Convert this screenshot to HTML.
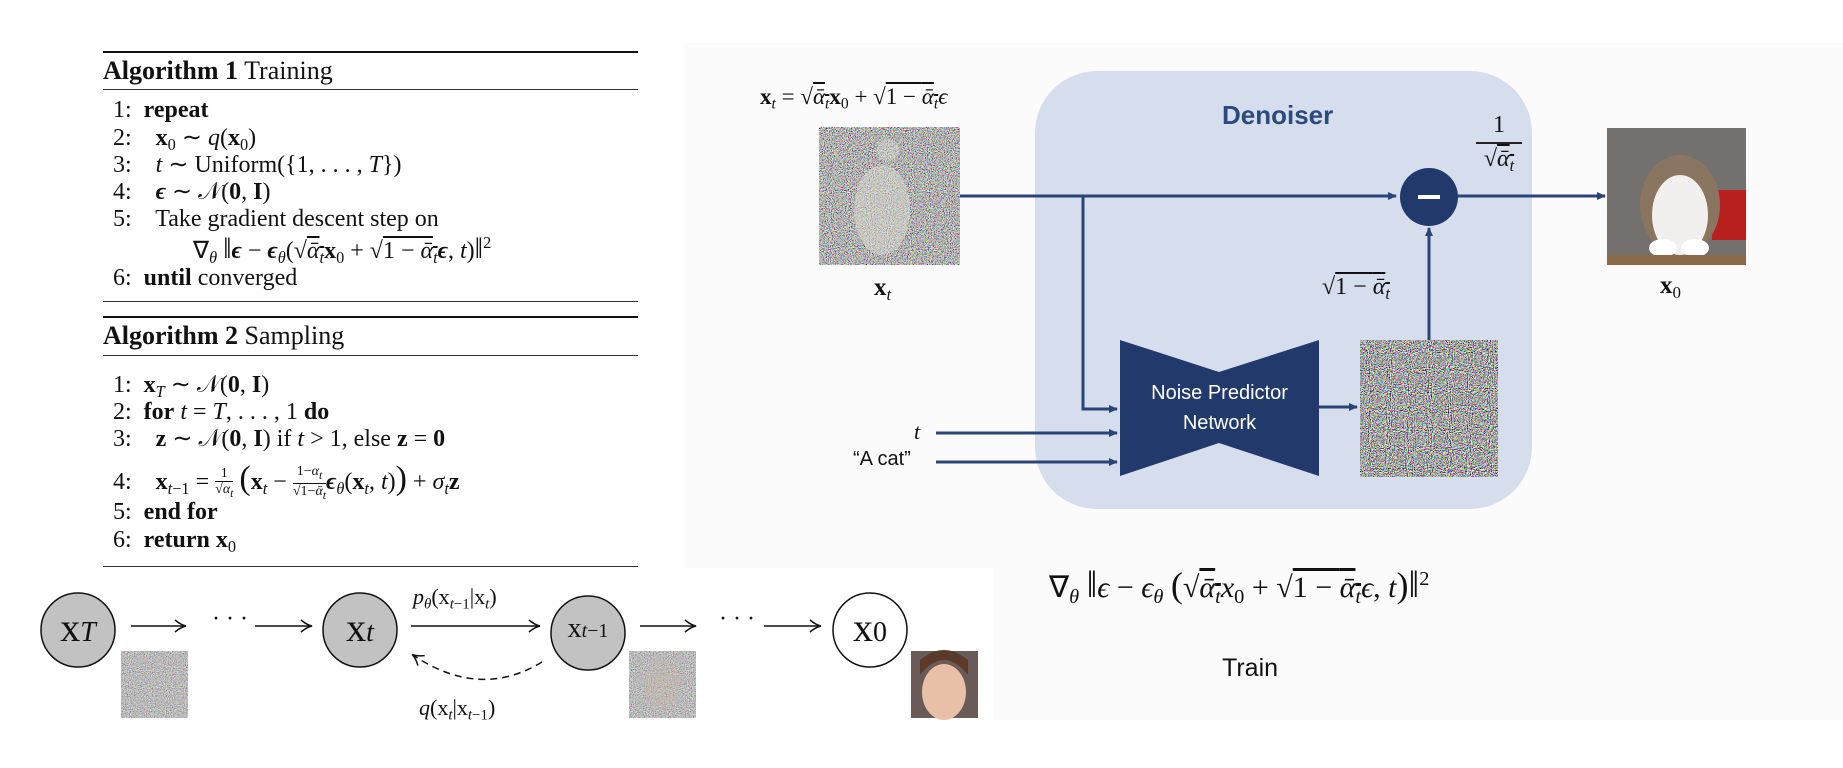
<!DOCTYPE html>
<html><head><meta charset="utf-8">
<style>
html,body{margin:0;padding:0;background:#fff;}
#c{position:relative;width:1843px;height:768px;overflow:hidden;background:#fff;font-family:"Liberation Serif",serif;color:#111;}
.a{position:absolute;white-space:nowrap;}
.s{font-size:24px;line-height:1;}
i{font-style:italic;}
b{font-weight:bold;}
.sub{font-size:0.68em;vertical-align:-0.3em;}
.sup{font-size:0.68em;vertical-align:0.6em;}
.ov{text-decoration:overline;}
.sans{font-family:"Liberation Sans",sans-serif;}
</style></head><body><div id="c">
<div class="a" style="left:684px;top:43px;width:1159px;height:525px;background:#fbfbfb;"></div>
<div class="a" style="left:993px;top:560px;width:850px;height:160px;background:#fbfbfb;"></div>

<div class="a" style="left:103px;top:51px;width:535px;height:2px;background:#111"></div>
<div class="a" style="left:103px;top:89px;width:535px;height:1px;background:#333"></div>
<div class="a" style="left:103px;top:301px;width:535px;height:1px;background:#333"></div>
<div class="a" style="left:103px;top:316px;width:535px;height:2px;background:#111"></div>
<div class="a" style="left:103px;top:355px;width:535px;height:1px;background:#333"></div>
<div class="a" style="left:103px;top:566px;width:535px;height:1px;background:#333"></div>

<div class="a" style="left:103px;top:56px;font-size:26px;"><b>Algorithm 1</b> Training</div>
<div class="a s" style="left:113px;top:98px;">1:&nbsp; <b>repeat</b></div>
<div class="a s" style="left:113px;top:126px;">2:&nbsp;&nbsp;&nbsp; <b>x</b><span class="sub">0</span> ∼ <i>q</i>(<b>x</b><span class="sub">0</span>)</div>
<div class="a s" style="left:113px;top:153px;">3:&nbsp;&nbsp;&nbsp; <i>t</i> ∼ Uniform({1, . . . , <i>T</i>})</div>
<div class="a s" style="left:113px;top:180px;">4:&nbsp;&nbsp;&nbsp; <b><i>ϵ</i></b> ∼ 𝒩(<b>0</b>, <b>I</b>)</div>
<div class="a s" style="left:113px;top:207px;">5:&nbsp;&nbsp;&nbsp; Take gradient descent step on</div>
<div class="a s" style="left:193px;top:234px;">∇<span class="sub"><i>θ</i></span> <span style="font-size:30px">‖</span><b><i>ϵ</i></b> − <b><i>ϵ</i></b><span class="sub"><i>θ</i></span>(√<span class="ov"><i>ᾱ</i><span class="sub"><i>t</i></span></span><b>x</b><span class="sub">0</span> + √<span class="ov">1 − <i>ᾱ</i><span class="sub"><i>t</i></span></span><b><i>ϵ</i></b>, <i>t</i>)<span style="font-size:30px">‖</span><span class="sup">2</span></div>
<div class="a s" style="left:113px;top:266px;">6:&nbsp; <b>until</b> converged</div>

<div class="a" style="left:103px;top:321px;font-size:26px;"><b>Algorithm 2</b> Sampling</div>
<div class="a s" style="left:113px;top:373px;">1:&nbsp; <b>x</b><span class="sub"><i>T</i></span> ∼ 𝒩(<b>0</b>, <b>I</b>)</div>
<div class="a s" style="left:113px;top:400px;">2:&nbsp; <b>for</b> <i>t</i> = <i>T</i>, . . . , 1 <b>do</b></div>
<div class="a s" style="left:113px;top:427px;">3:&nbsp;&nbsp;&nbsp; <b>z</b> ∼ 𝒩(<b>0</b>, <b>I</b>) if <i>t</i> &gt; 1, else <b>z</b> = <b>0</b></div>
<div class="a s" style="left:113px;top:462px;">4:&nbsp;&nbsp;&nbsp; <b>x</b><span class="sub"><i>t</i>−1</span> = <span style="display:inline-block;vertical-align:middle;text-align:center;font-size:14px;line-height:1.1"><span style="display:block;border-bottom:1px solid #111">1</span>√<i>α<sub>t</sub></i></span> <span style="font-size:34px">(</span><b>x</b><span class="sub"><i>t</i></span> − <span style="display:inline-block;vertical-align:middle;text-align:center;font-size:14px;line-height:1.1"><span style="display:block;border-bottom:1px solid #111">1−<i>α<sub>t</sub></i></span>√1−<i>ᾱ<sub>t</sub></i></span><b><i>ϵ</i></b><span class="sub"><i>θ</i></span>(<b>x</b><span class="sub"><i>t</i></span>, <i>t</i>)<span style="font-size:34px">)</span> + <i>σ</i><span class="sub"><i>t</i></span><b>z</b></div>
<div class="a s" style="left:113px;top:500px;">5:&nbsp; <b>end for</b></div>
<div class="a s" style="left:113px;top:528px;">6:&nbsp; <b>return</b> <b>x</b><span class="sub">0</span></div>

<svg class="a" style="left:0;top:0" width="1843" height="768">
<defs>
<filter id="nz" x="0" y="0" width="100%" height="100%"><feTurbulence type="fractalNoise" baseFrequency="0.95" numOctaves="1" seed="3"/><feColorMatrix type="matrix" values="5 0 0 0 -2  0 5 0 0 -2  0 0 5 0 -2  0 0 0 0 1"/></filter>
<filter id="nz2" x="0" y="0" width="100%" height="100%"><feTurbulence type="fractalNoise" baseFrequency="0.95" numOctaves="1" seed="7"/><feColorMatrix type="matrix" values="3 0 0 0 -1  0 3 0 0 -1  0 0 3 0 -1  0 0 0 0 1"/></filter>
<filter id="nz3" x="0" y="0" width="100%" height="100%"><feTurbulence type="fractalNoise" baseFrequency="0.95" numOctaves="1" seed="11"/><feColorMatrix type="matrix" values="1.6 0 0 0 -0.3  0 1.6 0 0 -0.3  0 0 1.6 0 -0.3  0 0 0 0 1"/></filter>
<marker id="ar" markerWidth="10" markerHeight="10" refX="8" refY="5" orient="auto" markerUnits="userSpaceOnUse"><path d="M0,1 L9,5 L0,9 Z" fill="#2a4478"/></marker>
<marker id="ak" markerWidth="14" markerHeight="14" refX="12" refY="7" orient="auto" markerUnits="userSpaceOnUse"><path d="M2,1 Q8,6 13,7 Q8,8 2,13" fill="none" stroke="#111" stroke-width="1.5"/></marker>
</defs>
<rect x="1035" y="71" width="497" height="438" rx="62" fill="#d6deee"/>
<rect x="819" y="127" width="141" height="138" filter="url(#nz2)"/>
<ellipse cx="882" cy="210" rx="28" ry="45" fill="#d8d8d0" opacity="0.55"/>
<circle cx="888" cy="150" r="11" fill="#d8d8d0" opacity="0.5"/>
<g stroke="#2a4478" stroke-width="3" fill="none">
<path d="M960,196 L1396,196" marker-end="url(#ar)"/>
<path d="M1083,196 L1083,409 L1117,409" marker-end="url(#ar)"/>
<path d="M1458,196 L1605,196" marker-end="url(#ar)"/>
<path d="M1319,407 L1357,407" marker-end="url(#ar)"/>
<path d="M1429,340 L1429,228" marker-end="url(#ar)"/>
<path d="M936,433 L1117,433" marker-end="url(#ar)"/>
<path d="M936,462 L1117,462" marker-end="url(#ar)"/>
</g>
<circle cx="1429" cy="197" r="29" fill="#22396b"/>
<rect x="1418" y="195" width="22" height="4" fill="#fff"/>
<path d="M1120,340 L1219,372 L1319,340 L1319,476 L1219,443 L1120,476 Z" fill="#22396b"/>
<rect x="1360" y="340" width="138" height="137" filter="url(#nz)"/>
<rect x="1607" y="128" width="139" height="137" fill="#5e5a56"/>
<rect x="1607" y="128" width="139" height="137" fill="#9a9a98" opacity="0.35"/>
<rect x="1712" y="190" width="34" height="50" fill="#b82020"/>
<ellipse cx="1680" cy="205" rx="40" ry="50" fill="#8a7560"/>
<ellipse cx="1680" cy="215" rx="28" ry="40" fill="#f2f0ee"/>
<ellipse cx="1663" cy="248" rx="14" ry="9" fill="#fff"/>
<ellipse cx="1695" cy="248" rx="14" ry="9" fill="#fff"/>
<rect x="1607" y="255" width="139" height="10" fill="#8a6a48"/>
<g stroke="#111" stroke-width="1.5">
<ellipse cx="78" cy="630" rx="37" ry="37" fill="#c2c2c2"/>
<ellipse cx="360" cy="630" rx="37" ry="37" fill="#c2c2c2"/>
<ellipse cx="588" cy="633" rx="37" ry="37" fill="#c2c2c2"/>
<ellipse cx="870" cy="630" rx="37" ry="37" fill="#fff"/>
<path d="M131,626 L185,626" marker-end="url(#ak)" fill="none"/>
<path d="M255,626 L311,626" marker-end="url(#ak)" fill="none"/>
<path d="M411,626 L539,626" marker-end="url(#ak)" fill="none"/>
<path d="M640,626 L695,626" marker-end="url(#ak)" fill="none"/>
<path d="M764,626 L820,626" marker-end="url(#ak)" fill="none"/>
<path d="M542,662 Q480,700 413,655" marker-end="url(#ak)" fill="none" stroke-dasharray="7,5"/>
</g>
<rect x="121" y="651" width="67" height="67" filter="url(#nz3)"/>
<rect x="629" y="651" width="67" height="67" filter="url(#nz3)"/>
<ellipse cx="662" cy="684" rx="18" ry="25" fill="#c8b8a8" opacity="0.35"/>
<rect x="911" y="651" width="67" height="67" fill="#6a5a58"/>
<ellipse cx="944" cy="692" rx="22" ry="28" fill="#e8c0a8"/>
<path d="M920,675 Q944,645 968,675 L968,660 Q944,640 920,660 Z" fill="#5a3a28"/>
</svg>

<div class="a" style="left:0;top:604px;width:156px;text-align:center;font-size:40px;">x<i style="font-size:28px">T</i></div>
<div class="a" style="left:282px;top:604px;width:156px;text-align:center;font-size:40px;">x<i style="font-size:28px">t</i></div>
<div class="a" style="left:510px;top:613px;width:156px;text-align:center;font-size:28px;">x<i style="font-size:20px">t</i><span style="font-size:20px">−1</span></div>
<div class="a" style="left:792px;top:604px;width:156px;text-align:center;font-size:40px;">x<span style="font-size:28px">0</span></div>
<div class="a" style="left:212px;top:606px;font-size:24px;">· · ·</div>
<div class="a" style="left:719px;top:606px;font-size:24px;">· · ·</div>
<div class="a" style="left:413px;top:584px;font-size:22px;"><i>p<span class="sub">θ</span></i>(x<span class="sub"><i>t</i>−1</span>|x<span class="sub"><i>t</i></span>)</div>
<div class="a" style="left:419px;top:695px;font-size:22px;"><i>q</i>(x<span class="sub"><i>t</i></span>|x<span class="sub"><i>t</i>−1</span>)</div>

<div class="a" style="left:760px;top:84px;font-size:23px;"><b>x</b><span class="sub"><i>t</i></span> = √<span class="ov"><i>ᾱ</i><span class="sub"><i>t</i></span></span><b>x</b><span class="sub">0</span> + √<span class="ov">1 − <i>ᾱ</i><span class="sub"><i>t</i></span></span><i>ϵ</i></div>
<div class="a sans" style="left:1222px;top:100px;font-size:26px;font-weight:bold;color:#2b4a7e;">Denoiser</div>
<div class="a" style="left:874px;top:274px;font-size:25px;"><b>x</b><span class="sub"><i>t</i></span></div>
<div class="a" style="left:1660px;top:272px;font-size:25px;"><b>x</b><span class="sub">0</span></div>
<div class="a" style="left:1476px;top:113px;width:46px;text-align:center;font-size:24px;line-height:1;"><div style="border-bottom:2px solid #222;padding-bottom:5px">1</div><div style="padding-top:3px">√<span class="ov"><i>ᾱ</i><span class="sub"><i>t</i></span></span></div></div>
<div class="a" style="left:1322px;top:274px;font-size:24px;">√<span class="ov">1 − <i>ᾱ</i><span class="sub"><i>t</i></span></span></div>
<div class="a sans" style="left:1120px;top:378px;width:199px;text-align:center;color:#fff;font-size:20px;line-height:30px;">Noise Predictor<br>Network</div>
<div class="a" style="left:914px;top:419px;font-size:22px;"><i>t</i></div>
<div class="a sans" style="left:853px;top:448px;font-size:20px;">“A cat”</div>
<div class="a" style="left:1049px;top:563px;font-size:30px;">∇<span class="sub"><i>θ</i></span> <span style="font-size:38px">‖</span><i>ϵ</i> − <i>ϵ</i><span class="sub"><i>θ</i></span> <span style="font-size:36px">(</span>√<span class="ov"><i>ᾱ</i><span class="sub"><i>t</i></span></span><i>x</i><span class="sub">0</span> + √<span class="ov">1 − <i>ᾱ</i><span class="sub"><i>t</i></span></span><i>ϵ</i>, <i>t</i><span style="font-size:36px">)</span><span style="font-size:38px">‖</span><span class="sup">2</span></div>
<div class="a sans" style="left:1222px;top:654px;font-size:25px;">Train</div>
</div></body></html>
